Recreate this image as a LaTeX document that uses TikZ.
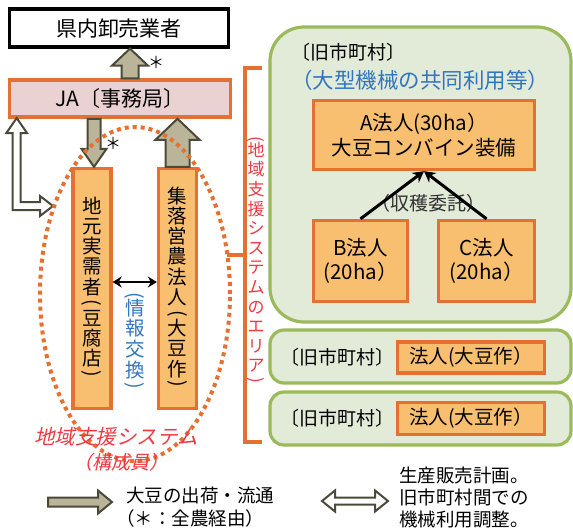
\documentclass[tikz,border=0pt]{standalone}
\usepackage{fontspec}
\usepackage{graphicx}
\setmainfont{Noto Sans CJK JP}
\newfontfamily\slantjp[FakeSlant=0.22]{Noto Sans CJK JP}
\usetikzlibrary{arrows.meta,calc}
\definecolor{obord}{RGB}{228,112,50}
\definecolor{ofill}{RGB}{249,191,112}
\definecolor{pfill}{RGB}{235,210,210}
\definecolor{gfill}{RGB}{226,234,216}
\definecolor{gbord}{RGB}{155,186,92}
\definecolor{khaki}{RGB}{186,181,152}
\definecolor{kline}{RGB}{74,74,58}
\definecolor{rtext}{RGB}{240,56,66}
\definecolor{btext}{RGB}{48,118,192}
\newcommand\fs[2]{\fontsize{#1}{#2}\selectfont}
\newcommand\vop{\rotatebox[origin=c]{-90}{(}}
\newcommand\vcl{\rotatebox[origin=c]{-90}{)}}
% block arrow: style, from, to, shaft half width, head half width, head length
\newcommand\blockarrow[6]{%
  \draw[#1] let \p1=#2, \p2=#3, \p3=($(\p2)!#6!(\p1)$) in
    (\p2) -- ($(\p3)!#5!90:(\p2)$) -- ($(\p3)!#4!90:(\p2)$)
    -- ($(\p1)!#4!90:(\p2)$) -- ($(\p1)!#4!-90:(\p2)$)
    -- ($(\p3)!#4!-90:(\p2)$) -- ($(\p3)!#5!-90:(\p2)$) -- cycle;}
% double block arrow: style, end1, end2, shaft half, head half, head length
\newcommand\dblockarrow[6]{%
  \draw[#1] let \p1=#2, \p2=#3, \p3=($(\p2)!#6!(\p1)$), \p4=($(\p1)!#6!(\p2)$) in
    (\p2) -- ($(\p3)!#5!90:(\p2)$) -- ($(\p3)!#4!90:(\p2)$)
    -- ($(\p4)!#4!90:(\p2)$) -- ($(\p4)!#5!90:(\p2)$) -- (\p1)
    -- ($(\p4)!#5!-90:(\p2)$) -- ($(\p4)!#4!-90:(\p2)$)
    -- ($(\p3)!#4!-90:(\p2)$) -- ($(\p3)!#5!-90:(\p2)$) -- cycle;}
\begin{document}
\begin{tikzpicture}[x=1pt,y=-1pt,
  obox/.style={draw=obord, fill=ofill, line width=3.3pt, inner sep=0pt},
  gbox/.style={draw=gbord, fill=gfill, line width=3.2pt, inner sep=0pt},
  fat/.style={draw=kline, fill=khaki, line width=2pt, line join=miter},
  hollow/.style={draw=kline, fill=white, line width=2pt, line join=miter},
  blk/.style={line width=2.6pt, {Stealth[length=9pt,width=11pt]}-{Stealth[length=9pt,width=11pt]}},
  blkone/.style={line width=3pt, -{Stealth[length=11pt,width=12pt]}},
  txt/.style={inner sep=0pt},
  vt/.style={align=center}]
\useasboundingbox (0,0) rectangle (573,530);

% ---- right side areas
\node[gbox, rounded corners=34pt, minimum width=301pt, minimum height=295pt] (area1) at (420.5,174.5) {};
\node[gbox, rounded corners=14pt, minimum width=301pt, minimum height=53pt] (area2) at (420.5,356.5) {};
\node[gbox, rounded corners=14pt, minimum width=301pt, minimum height=53pt] (area3) at (420.5,418.5) {};

\node[txt, anchor=west, font=\fs{19}{22}] (kyu1) at (291,52) {〔旧市町村〕};
\node[txt, anchor=west, font=\fs{21.5}{24}, text=btext] (kyodo) at (291,80) {（大型機械の共同利用等）};

\node[obox, vt, minimum width=221pt, minimum height=69pt, font=\fs{20.5}{25}] (A) at (424,135) {A法人(30ha）\\大豆コンバイン装備};
\node[obox, vt, minimum width=94pt, minimum height=81pt, font=\fs{20.5}{24}] (B) at (360.5,261) {B法人\\(20ha）};
\node[obox, vt, minimum width=96pt, minimum height=81pt, font=\fs{20.5}{24}] (C) at (486.5,261) {C法人\\(20ha）};
\node[txt, font=\fs{19}{22}, text=black!80] (itaku) at (428,203) {（収穫委託）};
\draw[blkone] (B.north) -- (A.south);
\draw[blkone] (C.north) -- (A.south);

\node[txt, anchor=west, font=\fs{19}{22}] (kyu2) at (280.5,357) {〔旧市町村〕};
\node[obox, minimum width=147pt, minimum height=31pt, font=\fs{19.5}{22}] (h1) at (471,357.5) {法人(大豆作）};
\node[txt, anchor=west, font=\fs{19}{22}] (kyu3) at (280.5,418) {〔旧市町村〕};
\node[obox, minimum width=147pt, minimum height=32pt, font=\fs{19.5}{22}] (h2) at (471,418.5) {法人(大豆作）};

% ---- bracket of the area
\draw[obord, line width=4.5pt] (262,68) -- (245,68) -- (245,442) -- (262,442);
\draw[obord, line width=4.5pt] (227,255) -- (245,255);
\node[txt, vt, font=\fs{17}{19.6}, text=rtext] (area) at (256,261)
  {\vop\\[-8pt]地\\域\\支\\援\\シ\\ス\\テ\\ム\\の\\エ\\リ\\ア\\[-6pt]\vcl};

% ---- left side
\node[draw=black, fill=white, line width=3.3pt, minimum width=219pt, minimum height=38pt, font=\fs{21}{24}] (ken) at (119,28) {県内卸売業者};
\node[draw=obord, fill=pfill, line width=3.5pt, minimum width=221pt, minimum height=37pt, font=\fs{21}{24}] (ja) at (120,98.5) {JA〔事務局〕};

\node[obox, vt, minimum width=38pt, minimum height=240pt, font=\fs{19.5}{20.2}] (jimoto) at (92,288.5)
  {地\\元\\実\\需\\者\\[-5pt]\vop\\[-4pt]豆\\腐\\店\\[-6pt]\vcl};
\node[obox, vt, minimum width=38pt, minimum height=240pt, font=\fs{19.5}{20.2}] (shu) at (177.5,288.5)
  {集\\落\\営\\農\\法\\人\\[-5pt]\vop\\[-4pt]大\\豆\\作\\[-6pt]\vcl};
\node[txt, vt, font=\fs{19.5}{20.6}, text=btext] (joho) at (135,342)
  {\vop\\[-7pt]情\\報\\交\\換\\[-6pt]\vcl};

\coordinate (xa) at (130,0);
\coordinate (xb) at (94,0);
\coordinate (xc) at (177.5,0);
\coordinate (yb) at (0,282);
\blockarrow{fat}{(xa |- ja.north)}{(xa |- ken.south)}{8.5pt}{18pt}{17pt}
\blockarrow{fat}{(xb |- ja.south)}{(xb |- jimoto.north)}{6.5pt}{12.5pt}{18pt}
\blockarrow{fat}{(xc |- shu.north)}{(xc |- ja.south)}{12pt}{22pt}{21pt}
\node[txt, font=\fs{16}{20}] (ast1) at (156,62) {＊};
\node[txt, font=\fs{16}{20}] (ast2) at (113,143) {＊};

\draw[blk] (jimoto.east |- yb) -- (shu.west |- yb);

% hollow elbow arrow JA <-> local members
\coordinate (eU) at (16.7,118);
\coordinate (eR) at (53,206);
\draw[hollow] (eU) -- (27,133) -- (20.7,133) -- (20.7,202) -- (40,202) -- (40,196) -- (eR)
  -- (40,216) -- (40,210) -- (12.7,210) -- (12.7,133) -- (6.4,133) -- cycle;

% dotted ellipse
\draw[obord, line width=4pt, dash pattern=on 4pt off 4pt] (135,294) ellipse [x radius=95pt, y radius=167pt];

\node[txt, font=\slantjp\fs{20.5}{24}, text=rtext] (chiiki) at (116,437) {地域支援システム};
\node[txt, font=\slantjp\fs{19}{22}, text=rtext] (kosei) at (121,462) {（構成員）};

% ---- legend
\coordinate (l1s) at (48,502);
\coordinate (l1e) at (112,502);
\blockarrow{fat}{(l1s)}{(l1e)}{4.5pt}{11.5pt}{14pt}
\node[txt, anchor=west, font=\fs{18.5}{22}] (leg1a) at (126,495) {大豆の出荷・流通};
\node[txt, anchor=west, font=\fs{18.5}{22}] (leg1b) at (116,518) {（＊：全農経由）};

\coordinate (l2s) at (322,501);
\coordinate (l2e) at (388,501);
\dblockarrow{hollow}{(l2s)}{(l2e)}{3.5pt}{10.5pt}{13pt}
\node[txt, anchor=west, align=left, font=\fs{18.5}{22}] (leg2) at (399,498) {生産販売計画。\\旧市町村間での\\機械利用調整。};
\end{tikzpicture}
\end{document}
